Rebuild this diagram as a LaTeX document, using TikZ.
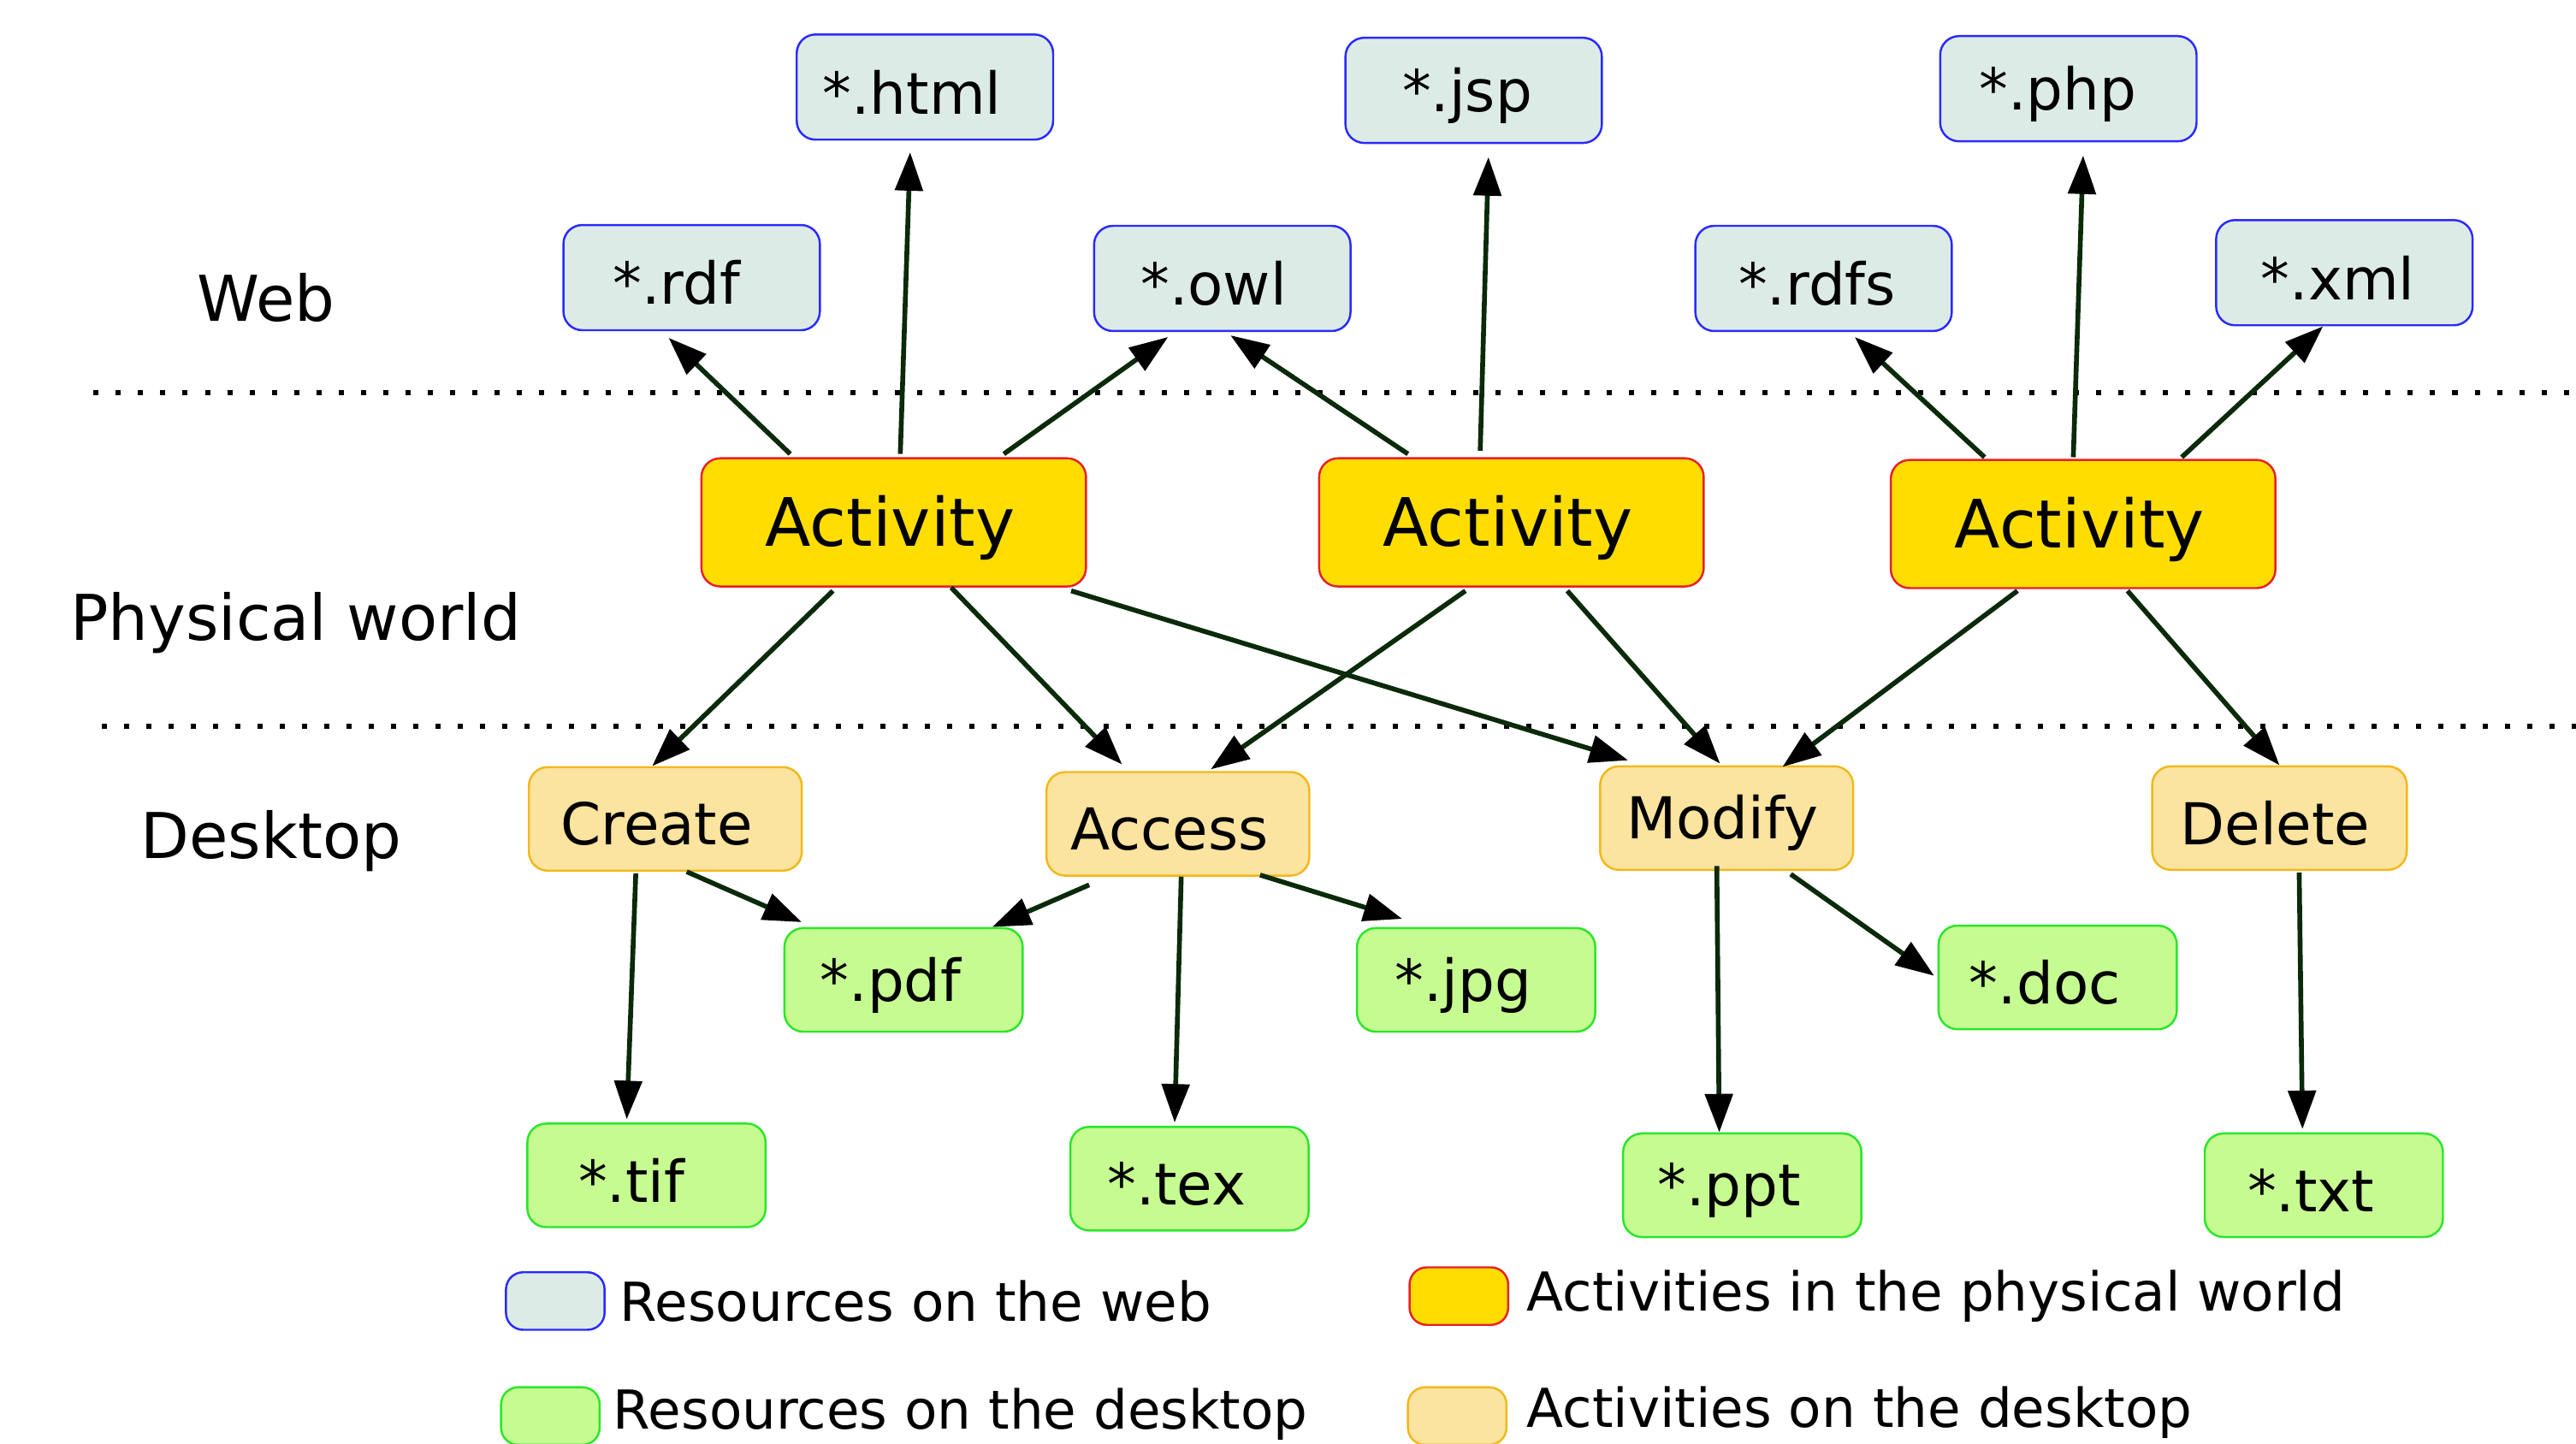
\documentclass[tikz,border=0pt]{standalone}
\usepackage{fontspec}
\setmainfont{DejaVu Sans}
\usetikzlibrary{calc,arrows.meta}
\definecolor{webfill}{HTML}{DDEBE6}
\definecolor{webdraw}{HTML}{2A2AFF}
\definecolor{actfill}{HTML}{FFDD00}
\definecolor{actdraw}{HTML}{E8202A}
\definecolor{dskfill}{HTML}{FBE3A0}
\definecolor{dskdraw}{HTML}{F2B81A}
\definecolor{resfill}{HTML}{C6FB91}
\definecolor{resdraw}{HTML}{2AE62A}
\definecolor{arrowcol}{HTML}{0A2A0A}
\newcommand\lblshift[2]{\raisebox{-0.06cm}[\height][\depth]{#2}\kern#1\relax}
\begin{document}
\begin{tikzpicture}[x=0.019203cm,y=-0.019203cm,
  box/.style={rounded corners=0.22cm, line width=0.7pt, inner sep=0pt, font=\fontsize{19.2}{22}\selectfont},
  web/.style={box, fill=webfill, draw=webdraw, minimum width=2.996cm, minimum height=1.229cm},
  act/.style={box, fill=actfill, draw=actdraw, minimum width=4.494cm, minimum height=1.498cm, font=\fontsize{22.2}{26}\selectfont},
  dsk/.style={box, fill=dskfill, draw=dskdraw, minimum height=1.21cm},
  res/.style={box, fill=resfill, draw=resdraw, minimum width=2.784cm, minimum height=1.21cm},
  swatch/.style={rounded corners=0.2cm, line width=0.7pt, minimum width=1.152cm, minimum height=0.672cm, inner sep=0pt},
  region/.style={font=\fontsize{21}{25}\selectfont, inner sep=0pt},
  legtext/.style={font=\fontsize{17.85}{21}\selectfont, inner sep=0pt, anchor=west},
  dotline/.style={line width=0.06cm, dash pattern=on 0.06cm off 0.2cm},
  conn/.style={draw=arrowcol, line width=1.6pt, -{Triangle[length=0.45cm,width=0.32cm,color=black]}}
]
\useasboundingbox (0,0) rectangle (1568,879);

% dotted separators
\draw[dotline] (57,239) -- (1568,239);
\draw[dotline] (62,442) -- (1568,442);

% region labels
\node[region] (lweb) at (162,181) {Web};
\node[region] (lphys) at (180,379) {Physical world};
\node[region] (ldesk) at (165,512) {Desktop};

% web resources
\node[web] (html) at (563,53) {\lblshift{0.3cm}{*.html}};
\node[web] (jsp) at (897,55) {\lblshift{0.15cm}{*.jsp}};
\node[web] (php) at (1259,54) {\lblshift{0.25cm}{*.php}};
\node[web] (rdf) at (421,169) {\lblshift{0.35cm}{*.rdf}};
\node[web] (owl) at (744,169.5) {\lblshift{0.2cm}{*.owl}};
\node[web] (rdfs) at (1110,169.5) {\lblshift{0.15cm}{*.rdfs}};
\node[web] (xml) at (1427,166) {\lblshift{0.15cm}{*.xml}};

% activities
\node[act] (a1) at (544,318) {\lblshift{0.08cm}{Activity}};
\node[act] (a2) at (920,318) {\lblshift{0.08cm}{Activity}};
\node[act] (a3) at (1268,319) {\lblshift{0.08cm}{Activity}};

% desktop activities
\node[dsk, minimum width=3.188cm] (create) at (405,498.5) {\lblshift{0.2cm}{Create}};
\node[dsk, minimum width=3.072cm] (access) at (717,501.5) {\lblshift{0.2cm}{Access}};
\node[dsk, minimum width=2.957cm] (modify) at (1051,498) {\lblshift{0.1cm}{Modify}};
\node[dsk, minimum width=2.976cm] (delete) at (1387.5,498) {\lblshift{0.1cm}{Delete}};

% desktop resources
\node[res] (pdf) at (550,596.5) {\lblshift{0.3cm}{*.pdf}};
\node[res] (jpg) at (898.5,596.5) {\lblshift{0.3cm}{*.jpg}};
\node[res] (doc) at (1252.5,595) {\lblshift{0.3cm}{*.doc}};
\node[res] (tif) at (393.5,715.5) {\lblshift{0.35cm}{*.tif}};
\node[res] (tex) at (724,717.5) {\lblshift{0.3cm}{*.tex}};
\node[res] (ppt) at (1060.5,721.5) {\lblshift{0.3cm}{*.ppt}};
\node[res] (txt) at (1414.5,721.5) {\lblshift{0.3cm}{*.txt}};

% connectors
\draw[conn] ($(a1.north)+(-63,-2)$) -- ($(rdf.south)+(-14,4)$);
\draw[conn] ($(a1.north)+(4,-2)$) -- ($(html.south)+(-9,7)$);
\draw[conn] ($(a1.north)+(67,-2)$) -- ($(owl.south)+(-33,3)$);
\draw[conn] ($(a1.south)+(-37,2)$) -- ($(create.north)+(-8,0)$);
\draw[conn] ($(a1.south)+(35,0)$) -- ($(access.north)+(-34,-4)$);
\draw[conn] ($(a1.south)+(108,2)$) -- ($(modify.north)+(-60,-3)$);

\draw[conn] ($(a2.north)+(-63,-2)$) -- ($(owl.south)+(5,2)$);
\draw[conn] ($(a2.north)+(-19,-4)$) -- ($(jsp.south)+(9,8)$);
\draw[conn] ($(a2.south)+(-28,2)$) -- ($(access.north)+(20,-1)$);
\draw[conn] ($(a2.south)+(34,2)$) -- ($(modify.north)+(-4,-1)$);

\draw[conn] ($(a3.north)+(-60,-1)$) -- ($(rdfs.south)+(19,3)$);
\draw[conn] ($(a3.north)+(-6,-1)$) -- ($(php.south)+(9,8)$);
\draw[conn] ($(a3.north)+(60,-1)$) -- ($(xml.south)+(-13,0)$);
\draw[conn] ($(a3.south)+(-40,1)$) -- ($(modify.north)+(34,1)$);
\draw[conn] ($(a3.south)+(27,1)$) -- ($(delete.north)+(0,0)$);

\draw[conn] ($(create.south)+(-18,1)$) -- ($(tif.north)+(-12,-2)$);
\draw[conn] ($(create.south)+(13,0)$) -- ($(pdf.north)+(-62,-3)$);
\draw[conn] ($(access.south)+(-54,5)$) -- ($(pdf.north)+(54,0)$);
\draw[conn] ($(access.south)+(2,0)$) -- ($(tex.north)+(-9,-2)$);
\draw[conn] ($(access.south)+(50,-1)$) -- ($(jpg.north)+(-45,-5)$);
\draw[conn] ($(modify.south)+(-6,-3)$) -- ($(ppt.north)+(-14,0)$);
\draw[conn] ($(modify.south)+(39,2)$) -- ($(doc.west)+(-2,-1)$);
\draw[conn] ($(delete.south)+(12,1)$) -- ($(txt.north)+(-13,-2)$);

% legend
\node[swatch, fill=webfill, draw=webdraw] (lg1) at (338,792) {};
\node[legtext] (lt1) at (377,792) {Resources on the web};
\node[swatch, fill=actfill, draw=actdraw] (lg2) at (888,789) {};
\node[legtext] (lt2) at (929,789) {Activities in the physical world};
\node[swatch, fill=resfill, draw=resdraw] (lg3) at (335,862) {};
\node[legtext] (lt3) at (373,861) {Resources on the desktop};
\node[swatch, fill=dskfill, draw=dskdraw] (lg4) at (887,862) {};
\node[legtext] (lt4) at (929,860) {Activities on the desktop};
\end{tikzpicture}
\end{document}
